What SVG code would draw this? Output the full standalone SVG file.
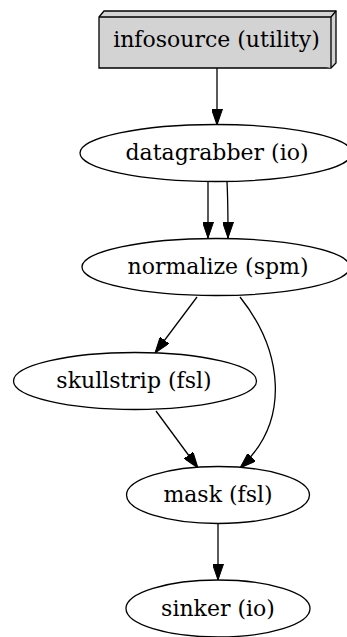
<svg xmlns="http://www.w3.org/2000/svg" width="347" height="637" viewBox="0 0 347 637">
  <style>
    .node ellipse { fill: #ffffff; stroke: #000000; stroke-width: 1.3; }
    .box { fill: #d3d3d3; stroke: #000000; stroke-width: 1.3; stroke-linejoin: miter; }
    .label { font-family: "DejaVu Serif", "Liberation Serif", serif; font-size: 22px; fill: #000000; text-anchor: middle; }
    .edge { fill: none; stroke: #000000; stroke-width: 1.3; }
  </style>
  <defs>
    <marker id="arrow" viewBox="0 0 16 11" refX="16" refY="5.5" markerWidth="16" markerHeight="11" markerUnits="userSpaceOnUse" orient="auto">
      <path d="M0,0 L16,5.5 L0,11 Z" fill="#000000" stroke="#000000" stroke-width="1"/>
    </marker>
  </defs>

  <g id="edges">
    <path class="edge" d="M217,68 L217,125" marker-end="url(#arrow)"/>
    <path class="edge" d="M208,182 L208,238" marker-end="url(#arrow)"/>
    <path class="edge" d="M227,182 C228,200 228,220 228,238" marker-end="url(#arrow)"/>
    <path class="edge" d="M197,297 L155,353" marker-end="url(#arrow)"/>
    <path class="edge" d="M240,297 C282,350 292,420 240,468" marker-end="url(#arrow)"/>
    <path class="edge" d="M156,411 L198,468" marker-end="url(#arrow)"/>
    <path class="edge" d="M218,523 L218,580" marker-end="url(#arrow)"/>
  </g>

  <g id="infosource" class="node">
    <path class="box" d="M99,17 L104,11 L336,11 L336,63 L331,68 L99,68 Z"/>
    <path class="box" d="M99,17 L331,17 L331,68 M331,17 L336,11" fill="none"/>
    <text class="label" x="216.5" y="47">infosource (utility)</text>
  </g>

  <g id="datagrabber" class="node">
    <ellipse cx="216" cy="153" rx="136" ry="28.5"/>
    <text class="label" x="217" y="159.5">datagrabber (io)</text>
  </g>

  <g id="normalize" class="node">
    <ellipse cx="216" cy="267" rx="134" ry="28.5"/>
    <text class="label" x="218" y="274">normalize (spm)</text>
  </g>

  <g id="skullstrip" class="node">
    <ellipse cx="135" cy="381" rx="121.5" ry="28.5"/>
    <text class="label" x="134" y="387.5">skullstrip (fsl)</text>
  </g>

  <g id="mask" class="node">
    <ellipse cx="218" cy="495" rx="91.5" ry="28.5"/>
    <text class="label" x="218" y="501.5">mask (fsl)</text>
  </g>

  <g id="sinker" class="node">
    <ellipse cx="218" cy="608.5" rx="92" ry="28.5"/>
    <text class="label" x="218" y="615.5">sinker (io)</text>
  </g>
</svg>
